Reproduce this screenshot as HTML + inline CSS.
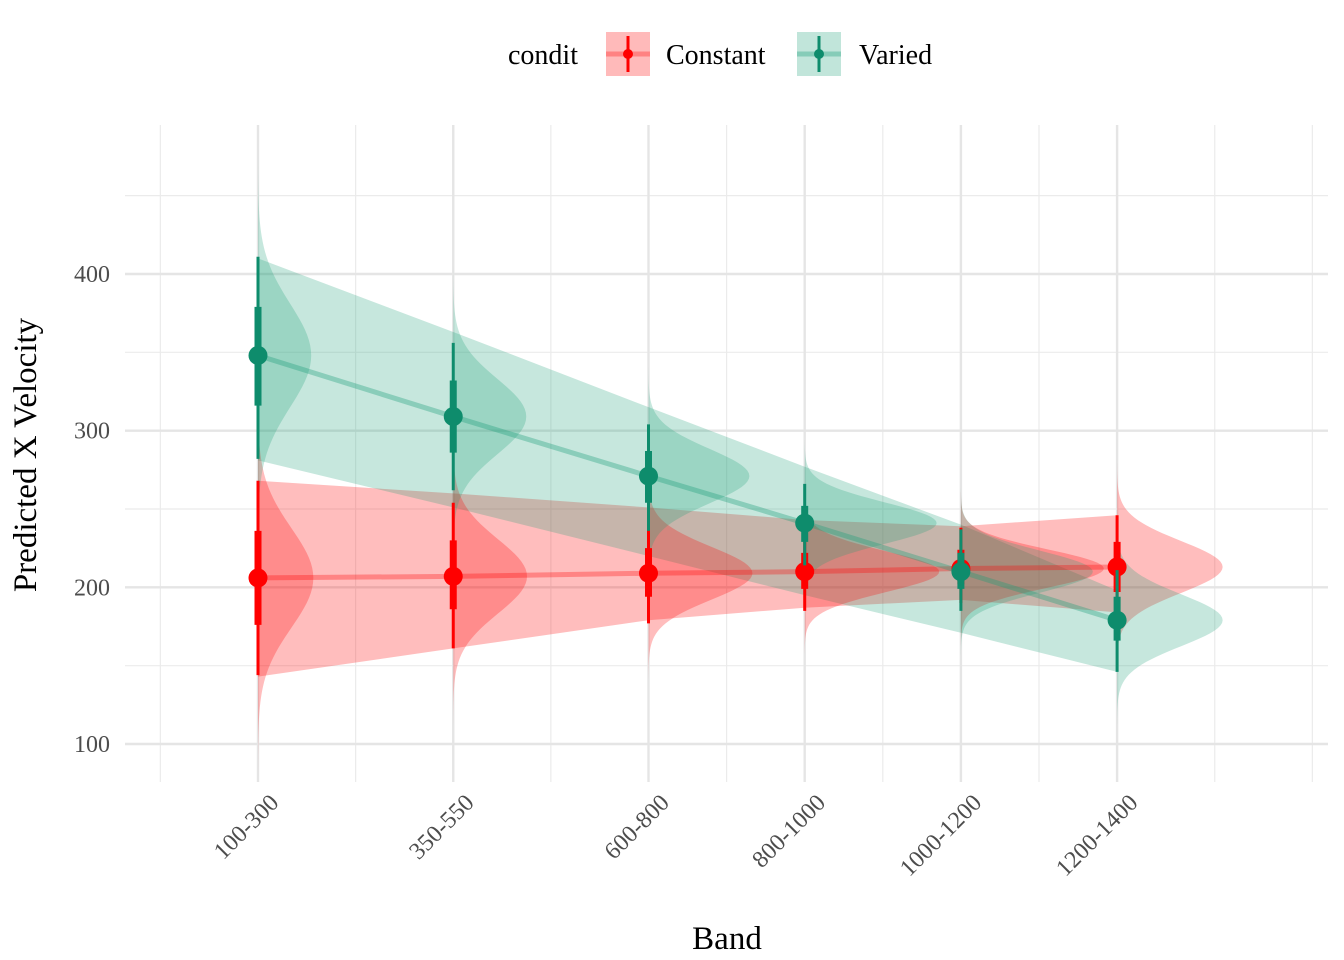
<!DOCTYPE html>
<html><head><meta charset="utf-8"><style>
body{margin:0;background:#fff;}
svg{display:block;font-family:"Liberation Serif",serif;}
</style></head><body>
<svg id="chart" width="1344" height="960" viewBox="0 0 1344 960">
<g id="grid"></g>
<g id="ribbons"></g>
<g id="dens"></g>
<g id="lines"></g>
<g id="marks"></g>
<g id="axes"></g>
<text x="727" y="949" font-size="33" text-anchor="middle" fill="#000">Band</text>
<text transform="translate(36,455) rotate(-90)" font-size="33" text-anchor="middle" fill="#000">Predicted X Velocity</text>
<g>
<text x="508" y="64" font-size="28" fill="#000">condit</text>
<g>
<rect x="606" y="32" width="44" height="44" fill="rgba(255,0,0,0.27)"/>
<line x1="606" y1="54" x2="650" y2="54" stroke="rgba(255,0,0,0.3)" stroke-width="5"/>
<line x1="628" y1="36" x2="628" y2="72" stroke="#ff0000" stroke-width="3"/>
<circle cx="628" cy="54" r="5" fill="#ff0000"/>
<text x="666" y="64" font-size="28" fill="#000">Constant</text></g>
<g>
<rect x="797" y="32" width="44" height="44" fill="rgba(27,158,119,0.27)"/>
<line x1="797" y1="54" x2="841" y2="54" stroke="rgba(27,158,119,0.35)" stroke-width="5"/>
<line x1="819" y1="36" x2="819" y2="72" stroke="#0e8c6c" stroke-width="3"/>
<circle cx="819" cy="54" r="5" fill="#0e8c6c"/>
<text x="859" y="64" font-size="28" fill="#000">Varied</text></g>
</g>
</svg>
<script>
const bands=["100-300","350-550","600-800","800-1000","1000-1200","1200-1400"];
const bandMid=[200,450,700,900,1100,1300];
const yTicks=[100,200,300,400];
const yMinor=[150,250,350,450];
const xMinor=[75,325,575,800,1000,1200,1425,1550];
const constMean=[206,207,209,210,212,213];
const constThickLo=[176,186,194,199,202,197];
const constThickHi=[236,230,225,222,224,229];
const constThinLo=[144,161,177,185,190,181];
const constThinHi=[268,254,243,236,238,246];
const constRibLo=[143,161,179,187,192,184];
const constRibHi=[268,260,251,243,239,246];
const varMean=[348,309,271,241,210,179];
const varThickLo=[316,286,254,229,199,166];
const varThickHi=[379,332,287,252,222,194];
const varThinLo=[282,262,236,214,185,146];
const varThinHi=[411,356,304,266,237,211];
const varRibLo=[281,251,220,195,171,146];
const varRibHi=[410,363,315,277,240,198];

const X=v=>258+(v-200)*0.781;
const Y=v=>744-(v-100)*1.5667;
const NS="http://www.w3.org/2000/svg";
function mk(tag,attrs,parent){const e=document.createElementNS(NS,tag);for(const k in attrs)e.setAttribute(k,attrs[k]);parent.appendChild(e);return e;}
const grid=document.getElementById('grid');
yMinor.forEach(v=>{const l=mk('line',{x1:125,x2:1328,y1:Y(v),y2:Y(v),stroke:'#ebebeb','stroke-width':1.2},grid);

});
xMinor.forEach(v=>{const l=mk('line',{x1:X(v),x2:X(v),y1:125,y2:782,stroke:'#ebebeb','stroke-width':1.2},grid);

});
yTicks.forEach(v=>{const l=mk('line',{x1:125,x2:1328,y1:Y(v),y2:Y(v),stroke:'#e5e5e5','stroke-width':2.4},grid);

});
bandMid.forEach(v=>{const l=mk('line',{x1:X(v),x2:X(v),y1:125,y2:782,stroke:'#e5e5e5','stroke-width':2.4},grid);

});
const axes=document.getElementById('axes');
yTicks.forEach(v=>{const t=mk('text',{x:110,y:Y(v)+8,'font-size':24,'text-anchor':'end',fill:'#4d4d4d'},axes);t.textContent=v;

});
bands.forEach((b,i)=>{const x=X(bandMid[i]);const t=mk('text',{transform:`translate(${x+22},${804}) rotate(-45)`,'font-size':24,'text-anchor':'end',fill:'#4d4d4d'},axes);t.textContent=b;

});

const series=[
 {name:'constant',col:'#ff0000',fill:'rgba(255,0,0,0.26)',line:'rgba(255,0,0,0.3)',mean:constMean,tl:constThickLo,th:constThickHi,nl:constThinLo,nh:constThinHi,rl:constRibLo,rh:constRibHi},
 {name:'varied',col:'#0e8c6c',fill:'rgba(27,158,119,0.25)',line:'rgba(27,158,119,0.35)',mean:varMean,tl:varThickLo,th:varThickHi,nl:varThinLo,nh:varThinHi,rl:varRibLo,rh:varRibHi}
];
const rib=document.getElementById('ribbons'),dens=document.getElementById('dens'),lines=document.getElementById('lines'),marks=document.getElementById('marks');
series.forEach(s=>{
 let d='M'+bandMid.map((b,i)=>X(b)+','+Y(s.rh[i])).join('L')+'L'+bandMid.map((b,i)=>X(b)+','+Y(s.rl[i])).reverse().join('L')+'Z';
 const r=mk('path',{d:d,fill:s.fill},rib);
 
 
 bandMid.forEach((b,i)=>{
  const sd=(s.nh[i]-s.nl[i])/3.92;const w=1750/sd;const x0=X(b);
  let p=[];for(let k=0;k<=80;k++){const v=s.mean[i]-4*sd+8*sd*k/80;const z=(v-s.mean[i])/sd;p.push((x0+w*Math.exp(-z*z/2))+','+Y(v));}
  const e=mk('path',{d:'M'+x0+','+Y(s.mean[i]-4*sd)+'L'+p.join('L')+'L'+x0+','+Y(s.mean[i]+4*sd)+'Z',fill:s.fill},dens);
  
  
 });
 const ln=mk('polyline',{points:bandMid.map((b,i)=>X(b)+','+Y(s.mean[i])).join(' '),fill:'none',stroke:s.line,'stroke-width':5},lines);
 
 
 bandMid.forEach((b,i)=>{
  const x=X(b);
  const g=mk('g',{},marks);
  
  
  mk('line',{x1:x,x2:x,y1:Y(s.nl[i]),y2:Y(s.nh[i]),stroke:s.col,'stroke-width':3},g);
  mk('line',{x1:x,x2:x,y1:Y(s.tl[i]),y2:Y(s.th[i]),stroke:s.col,'stroke-width':7},g);
  mk('circle',{cx:x,cy:Y(s.mean[i]),r:9.5,fill:s.col},g);
 });
});
</script>
</body></html>
